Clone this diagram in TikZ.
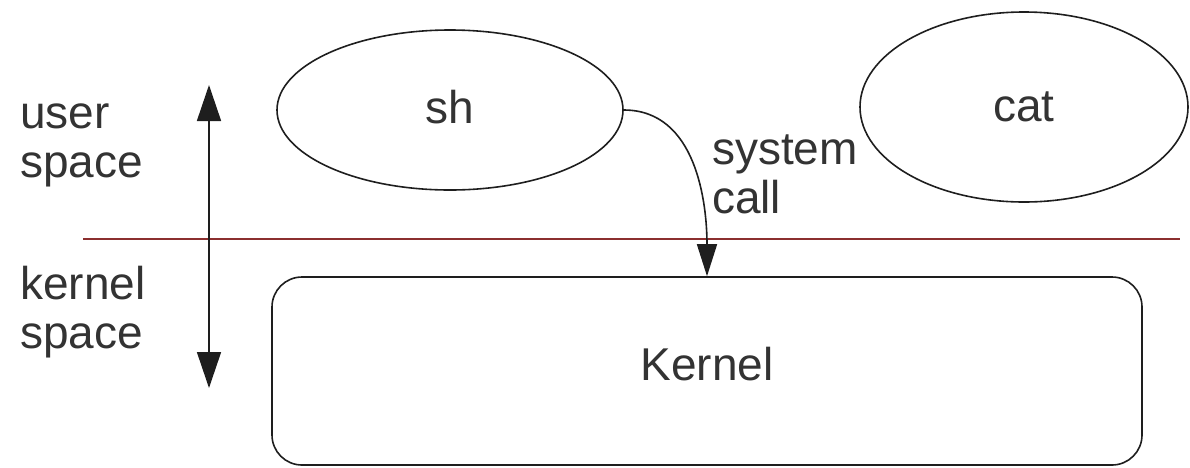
\documentclass[tikz,border=0pt]{standalone}
\usepackage{fontspec}
\setmainfont{Liberation Sans}
\usetikzlibrary{shapes.geometric,arrows.meta}
\definecolor{txt}{HTML}{333333}
\definecolor{ln}{HTML}{1E1E1E}
\definecolor{redline}{HTML}{8B2F2F}
\begin{document}
\begin{tikzpicture}[x=1pt,y=-1pt,
  lbl/.style={text=txt,font=\fontsize{46}{49}\selectfont,inner sep=0pt},
  proc/.style={ellipse,draw=ln,line width=1.6pt,text=txt,font=\fontsize{46}{49}\selectfont,inner sep=0pt},
  kbox/.style={rectangle,rounded corners=30pt,draw=ln,line width=1.6pt,text=txt,font=\fontsize{46}{49}\selectfont,inner sep=0pt},
  darr/.style={ln,line width=1.6pt,{Triangle[length=36pt,width=24pt]}-{Triangle[length=36pt,width=24pt]}}]
\useasboundingbox (0,0) rectangle (1190,467);
% boundary line
\coordinate (l1) at (83,239);
\coordinate (l2) at (1180,239);
\draw[redline,line width=1.6pt] (l1) -- (l2);
% side labels (anchor at baseline of last line)
\node[lbl,align=left,anchor=base west] (us) at (20,177) {user\\space};
\node[lbl,align=left,anchor=base west] (ks) at (20,348) {kernel\\space};
% vertical arrow
\coordinate (atop) at (209,85);
\coordinate (abot) at (209,388);
\draw[darr] (atop) -- (abot);
% processes
\node[proc,minimum width=346pt,minimum height=160pt,text depth=7pt] (sh) at (450,110) {sh};
\node[proc,minimum width=328pt,minimum height=190pt] (cat) at (1024,107) {cat};
% kernel
\node[kbox,minimum width=870pt,minimum height=188pt,text depth=15pt] (kernel) at (707,371) {Kernel};
% system call
\draw[ln,line width=1.6pt,-{Triangle[length=32pt,width=20pt]}] (sh.east) to[out=0,in=90] (kernel.north);
\node[lbl,align=left,anchor=base west] (sc) at (712,213) {system\\call};
\end{tikzpicture}
\end{document}
